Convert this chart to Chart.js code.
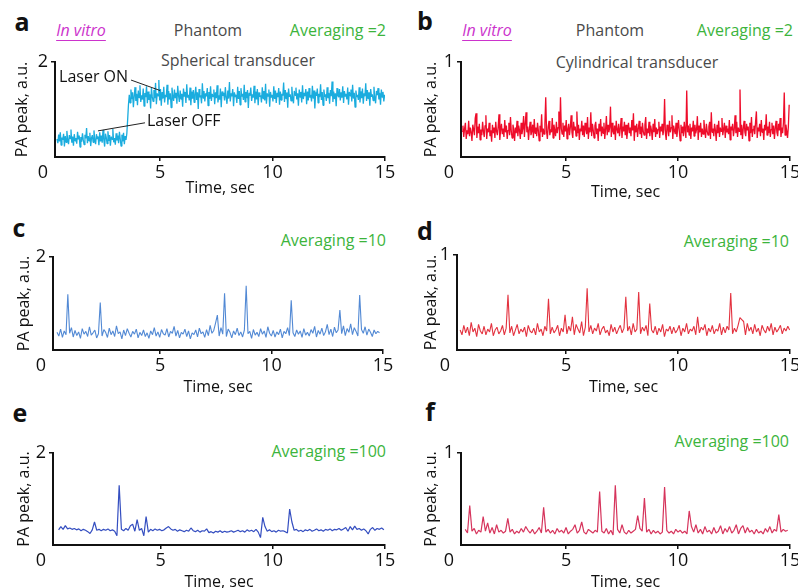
<!DOCTYPE html>
<html>
<head>
<meta charset="utf-8">
<script src="https://cdn.jsdelivr.net/npm/chart.js@4.4.0/dist/chart.umd.min.js"></script>
<style>
  html, body { margin: 0; padding: 0; background: #fff; }
  body { width: 798px; height: 588px; overflow: hidden; position: relative; font-family: "Open Sans", sans-serif; }
  .box { position: absolute; }
  .txt { position: absolute; white-space: nowrap; font-size: 16px; line-height: 1; transform: translate(-50%, -50%); color: #4a4a4a; }
  .right { transform: translate(-100%, -50%); }
  .letter { font-weight: bold; font-size: 25px; color: #111; }
  .vitro { font-style: italic; color: #cc33cc; text-decoration: underline; text-underline-offset: 4px; }
  .avg { color: #3cb43c; }
</style>
</head>
<body>

<div class="txt letter" style="left:22px;top:21px">a</div>
<div class="txt vitro" style="left:81px;top:30px">In vitro</div>
<div class="txt" style="left:208px;top:30px">Phantom</div>
<div class="txt avg right" style="left:386px;top:30px">Averaging =2</div>
<div class="txt" style="left:238px;top:60px">Spherical transducer</div>

<div class="txt letter" style="left:425px;top:20px">b</div>
<div class="txt vitro" style="left:487px;top:30px">In vitro</div>
<div class="txt" style="left:610px;top:30px">Phantom</div>
<div class="txt avg right" style="left:793px;top:30px">Averaging =2</div>
<div class="txt" style="left:637px;top:62px">Cylindrical transducer</div>

<div class="txt letter" style="left:19px;top:227px">c</div>
<div class="txt avg right" style="left:386px;top:240px">Averaging =10</div>

<div class="txt letter" style="left:425px;top:230px">d</div>
<div class="txt avg right" style="left:789px;top:241px">Averaging =10</div>

<div class="txt letter" style="left:20px;top:412px">e</div>
<div class="txt avg right" style="left:386px;top:451px">Averaging =100</div>

<div class="txt letter" style="left:430px;top:411px">f</div>
<div class="txt avg right" style="left:789px;top:441px">Averaging =100</div>

<script>
// sample grids (start time, sample spacing in sec)
const aStart = 0.42, aStep = 0.0365;
const bStart = 0.36, bStep = 0.0366;
const cStart = 0.38, cStep = 0.0808;
const dStart = 0.27, dStep = 0.0822;
const eStart = 0.45, eStep = 0.1;
const fStart = 0.5, fStep = 0.1;

const timeTicks = [5, 10, 15];

// a: spherical transducer, averaging 2 (laser off, then on at ~3.6 s)
const aValues = [
  0.38, 0.29, 0.47, 0.33, 0.52, 0.25, 0.41, 0.36, 0.49, 0.22, 0.44, 0.31, 0.55, 0.35, 0.27, 0.46, 0.39, 0.58, 0.30, 0.43,
  0.24, 0.48, 0.34, 0.40, 0.28, 0.53, 0.37, 0.45, 0.21, 0.42, 0.32, 0.50, 0.36, 0.26, 0.47, 0.39, 0.61, 0.29, 0.44, 0.34,
  0.51, 0.23, 0.40, 0.46, 0.31, 0.56, 0.35, 0.27, 0.48, 0.38, 0.43, 0.25, 0.52, 0.33, 0.45, 0.30, 0.57, 0.36, 0.22, 0.49,
  0.41, 0.28, 0.54, 0.34, 0.46, 0.24, 0.43, 0.37, 0.59, 0.31, 0.40, 0.26, 0.50, 0.35, 0.45, 0.29, 0.53, 0.38, 0.23, 0.47,
  0.33, 0.51, 0.27, 0.44, 0.36, 0.49,
  0.78, 1.10,
  1.31, 1.14, 1.42, 1.22, 1.36, 1.05, 1.28, 1.47, 1.18, 1.33, 1.09, 1.40, 1.25, 1.51, 1.16, 1.30, 1.21, 1.44, 1.07, 1.35,
  1.26, 1.49, 1.13, 1.38, 1.20, 1.32, 1.02, 1.45, 1.27, 1.17, 1.41, 1.24, 1.56, 1.11, 1.34, 1.29, 1.62, 1.19, 1.43, 1.08,
  1.37, 1.23, 1.48, 1.15, 1.31, 1.26, 1.52, 1.10, 1.39, 1.21, 1.34, 1.04, 1.46, 1.28, 1.18, 1.42, 1.24, 1.35, 1.12, 1.50,
  1.29, 1.16, 1.40, 1.22, 1.33, 1.06, 1.44, 1.27, 1.37, 1.14, 1.53, 1.25, 1.31, 1.19, 1.46, 1.09, 1.38, 1.23, 1.41, 1.15,
  1.32, 1.48, 1.20, 1.36, 1.01, 1.43, 1.26, 1.30, 1.13, 1.55, 1.24, 1.39, 1.17, 1.34, 1.28, 1.45, 1.08, 1.37, 1.22, 1.49,
  1.18, 1.33, 1.27, 1.42, 1.11, 1.36, 1.24, 1.51, 1.15, 1.30, 1.21, 1.44, 1.05, 1.38, 1.29, 1.35, 1.19, 1.47, 1.25, 1.12,
  1.40, 1.23, 1.58, 1.17, 1.34, 1.28, 1.43, 1.07, 1.36, 1.26, 1.31, 1.14, 1.48, 1.22, 1.39, 1.10, 1.45, 1.27, 1.33, 1.20,
  1.52, 1.16, 1.37, 1.24, 1.41, 1.03, 1.35, 1.29, 1.46, 1.18, 1.32, 1.25, 1.50, 1.13, 1.38, 1.21, 1.43, 1.09, 1.36, 1.27,
  1.30, 1.15, 1.47, 1.23, 1.39, 1.19, 1.54, 1.12, 1.34, 1.28, 1.42, 1.06, 1.37, 1.25, 1.31, 1.17, 1.49, 1.22, 1.40, 1.14,
  1.35, 1.26, 1.45, 1.10, 1.38, 1.20, 1.33, 1.29, 1.57, 1.16, 1.41, 1.23, 1.36, 1.04, 1.44, 1.27, 1.32, 1.18, 1.48, 1.24,
  1.13, 1.39, 1.30, 1.46, 1.21, 1.34, 1.08, 1.42, 1.26, 1.37, 1.15, 1.51, 1.22, 1.35, 1.28, 1.43, 1.11, 1.38, 1.19, 1.45,
  1.25, 1.31, 1.17, 1.50, 1.23, 1.40, 1.02, 1.36, 1.29, 1.44, 1.14, 1.33, 1.26, 1.53, 1.20, 1.37, 1.09, 1.42, 1.27, 1.32,
  1.18, 1.47, 1.24, 1.35, 1.12, 1.41, 1.28, 1.59, 1.16, 1.38, 1.22, 1.34, 1.07, 1.45, 1.30, 1.26, 1.43, 1.19, 1.36, 1.25,
  1.49, 1.14, 1.39, 1.27, 1.33, 1.21, 1.46, 1.10, 1.37, 1.29, 1.42, 1.17, 1.52, 1.23, 1.35, 1.05, 1.40, 1.26, 1.31, 1.20,
  1.47, 1.15, 1.38, 1.24, 1.44, 1.12, 1.34, 1.28, 1.55, 1.18, 1.41, 1.22, 1.36, 1.08, 1.43, 1.27, 1.32, 1.19, 1.48, 1.25,
  1.13, 1.39, 1.30, 1.45, 1.21, 1.35, 1.10, 1.42, 1.26, 1.37, 1.17, 1.31
];

// b: cylindrical transducer, averaging 2
const bValues = [
  0.27, 0.33, 0.21, 0.30, 0.36, 0.19, 0.28, 0.24, 0.38, 0.22, 0.31, 0.26, 0.17, 0.34, 0.29, 0.23, 0.41, 0.46, 0.20, 0.32,
  0.25, 0.35, 0.18, 0.29, 0.23, 0.37, 0.27, 0.21, 0.33, 0.44, 0.19, 0.30, 0.26, 0.36, 0.22, 0.28, 0.16, 0.34, 0.25, 0.31,
  0.20, 0.37, 0.27, 0.23, 0.32, 0.45, 0.18, 0.29, 0.35, 0.24, 0.30, 0.21, 0.39, 0.26, 0.33, 0.19, 0.28, 0.36, 0.23, 0.42,
  0.27, 0.20, 0.34, 0.29, 0.17, 0.31, 0.25, 0.38, 0.22, 0.33, 0.28, 0.19, 0.36, 0.24, 0.30, 0.43, 0.21, 0.35, 0.47, 0.26,
  0.32, 0.18, 0.29, 0.37, 0.23, 0.27, 0.34, 0.20, 0.40, 0.25, 0.31, 0.22, 0.36, 0.28, 0.17, 0.33, 0.26, 0.45, 0.21, 0.30,
  0.24, 0.35, 0.63, 0.27, 0.19, 0.32, 0.38, 0.23, 0.29, 0.26, 0.41, 0.20, 0.34, 0.28, 0.22, 0.37, 0.25, 0.31, 0.48, 0.18,
  0.63, 0.30, 0.24, 0.36, 0.21, 0.33, 0.27, 0.39, 0.19, 0.29, 0.35, 0.23, 0.31, 0.44, 0.26, 0.20, 0.37, 0.28, 0.32, 0.22,
  0.48, 0.25, 0.34, 0.18, 0.30, 0.27, 0.38, 0.23, 0.33, 0.21, 0.36, 0.29, 0.24, 0.42, 0.19, 0.31, 0.26, 0.47, 0.22, 0.35,
  0.28, 0.20, 0.33, 0.37, 0.24, 0.30, 0.17, 0.35, 0.27, 0.40, 0.22, 0.32, 0.25, 0.36, 0.19, 0.29, 0.43, 0.23, 0.34, 0.26,
  0.31, 0.53, 0.21, 0.36, 0.27, 0.24, 0.33, 0.18, 0.38, 0.29, 0.25, 0.35, 0.22, 0.30, 0.41, 0.20, 0.32, 0.27, 0.37, 0.23,
  0.34, 0.19, 0.29, 0.36, 0.25, 0.31, 0.22, 0.39, 0.28, 0.46, 0.17, 0.33, 0.26, 0.35, 0.21, 0.30, 0.38, 0.24, 0.32, 0.20,
  0.36, 0.27, 0.23, 0.34, 0.42, 0.19, 0.30, 0.25, 0.37, 0.22, 0.33, 0.28, 0.18, 0.35, 0.26, 0.40, 0.21, 0.31, 0.24, 0.29,
  0.37, 0.20, 0.32, 0.27, 0.35, 0.23, 0.29, 0.61, 0.25, 0.18, 0.34, 0.30, 0.22, 0.38, 0.26, 0.31, 0.44, 0.19, 0.33, 0.28,
  0.24, 0.36, 0.21, 0.30, 0.39, 0.27, 0.17, 0.34, 0.25, 0.32, 0.22, 0.37, 0.28, 0.20, 0.70, 0.26, 0.33, 0.23, 0.35, 0.19,
  0.31, 0.27, 0.38, 0.22, 0.34, 0.25, 0.29, 0.43, 0.18, 0.33, 0.26, 0.36, 0.21, 0.30, 0.24, 0.39, 0.28, 0.20, 0.35, 0.27,
  0.23, 0.32, 0.37, 0.19, 0.47, 0.26, 0.30, 0.22, 0.35, 0.28, 0.17, 0.34, 0.25, 0.38, 0.21, 0.31, 0.27, 0.41, 0.23, 0.29,
  0.36, 0.20, 0.33, 0.26, 0.30, 0.24, 0.39, 0.18, 0.32, 0.28, 0.35, 0.22, 0.29, 0.44, 0.25, 0.37, 0.21, 0.31, 0.27, 0.71,
  0.23, 0.34, 0.19, 0.30, 0.38, 0.26, 0.22, 0.35, 0.28, 0.32, 0.17, 0.36, 0.25, 0.42, 0.21, 0.29, 0.33, 0.24, 0.37, 0.48,
  0.20, 0.31, 0.27, 0.35, 0.22, 0.39, 0.26, 0.30, 0.18, 0.34, 0.28, 0.45, 0.23, 0.32, 0.25, 0.37, 0.21, 0.29, 0.36, 0.24,
  0.33, 0.19, 0.30, 0.38, 0.26, 0.22, 0.35, 0.28, 0.41, 0.21, 0.31, 0.25, 0.36, 0.68, 0.23, 0.34, 0.27, 0.20, 0.32, 0.55
];

// c: spherical, averaging 10
const cValues = [
  0.38, 0.30, 0.45, 0.27, 0.41, 0.33, 1.20, 0.36, 0.48, 0.28, 0.42, 0.31, 0.39, 0.25, 0.46, 0.34, 0.40, 0.29, 0.50, 0.32,
  0.37, 0.43, 0.26, 0.35, 1.02, 0.30, 0.44, 0.38, 0.27, 0.47, 0.33, 0.41, 0.29, 0.52, 0.35, 0.39, 0.24, 0.43, 0.31, 0.46,
  0.36, 0.28, 0.40, 0.34, 0.45, 0.26, 0.38, 0.31, 0.43, 0.29, 0.37, 0.25, 0.41, 0.33, 0.48, 0.30, 0.39, 0.27, 0.44, 0.35,
  0.32, 0.46, 0.28, 0.40, 0.36, 0.51, 0.30, 0.42, 0.26, 0.38, 0.34, 0.45, 0.29, 0.41, 0.24, 0.37, 0.33, 0.43, 0.28, 0.47,
  0.35, 0.39, 0.27, 0.44, 0.31, 0.53, 0.36, 0.42, 0.58, 0.75, 0.30, 0.48, 0.34, 1.22, 0.29, 0.45, 0.38, 0.26, 0.41, 0.33,
  0.47, 0.31, 0.39, 0.28, 0.43, 1.38, 0.35, 0.40, 0.25, 0.44, 0.32, 0.38, 0.29, 0.46, 0.34, 0.41, 0.27, 0.50, 0.36, 0.30,
  0.42, 0.28, 0.39, 0.33, 0.45, 0.26, 0.40, 0.35, 0.48, 0.31, 1.07, 0.37, 0.29, 0.43, 0.34, 0.41, 0.27, 0.46, 0.32, 0.38,
  0.30, 0.44, 0.36, 0.51, 0.28, 0.42, 0.34, 0.47, 0.31, 0.39, 0.55, 0.33, 0.45, 0.29, 0.49, 0.37, 0.43, 0.86, 0.35, 0.52,
  0.31, 0.46, 0.38, 0.56, 0.33, 0.48, 0.40, 0.30, 1.18, 0.44, 0.36, 0.50, 0.32, 0.45, 0.38, 0.29, 0.43, 0.35, 0.40, 0.37
];

// d: cylindrical, averaging 10
const dValues = [
  0.21, 0.16, 0.26, 0.18, 0.24, 0.15, 0.29, 0.19, 0.23, 0.14, 0.27, 0.20, 0.17, 0.25, 0.16, 0.22, 0.19, 0.28, 0.15, 0.21,
  0.24, 0.17, 0.20, 0.26, 0.16, 0.23, 0.58, 0.18, 0.25, 0.15, 0.21, 0.27, 0.17, 0.22, 0.19, 0.24, 0.14, 0.26, 0.20, 0.18,
  0.23, 0.16, 0.28, 0.19, 0.22, 0.15, 0.25, 0.20, 0.54, 0.17, 0.24, 0.18, 0.21, 0.26, 0.15, 0.23, 0.19, 0.37, 0.17, 0.25,
  0.20, 0.35, 0.16, 0.27, 0.22, 0.18, 0.30, 0.15, 0.24, 0.65, 0.19, 0.26, 0.17, 0.23, 0.20, 0.28, 0.16, 0.22, 0.25, 0.18,
  0.21, 0.15, 0.27, 0.19, 0.24, 0.17, 0.22, 0.26, 0.18, 0.23, 0.56, 0.20, 0.25, 0.16, 0.28, 0.19, 0.22, 0.61, 0.17, 0.24,
  0.20, 0.26, 0.15, 0.49, 0.21, 0.18, 0.25, 0.16, 0.23, 0.19, 0.27, 0.14, 0.22, 0.20, 0.25, 0.17, 0.24, 0.18, 0.21, 0.26,
  0.15, 0.23, 0.19, 0.28, 0.17, 0.22, 0.20, 0.25, 0.16, 0.35, 0.18, 0.24, 0.21, 0.27, 0.15, 0.23, 0.19, 0.26, 0.17, 0.22,
  0.20, 0.28, 0.16, 0.24, 0.18, 0.25, 0.21, 0.60, 0.17, 0.23, 0.19, 0.26, 0.34, 0.32, 0.30, 0.16, 0.28, 0.20, 0.24, 0.17,
  0.27, 0.19, 0.23, 0.15, 0.26, 0.21, 0.18, 0.25, 0.20, 0.28, 0.16, 0.24, 0.19, 0.22, 0.26, 0.17, 0.23, 0.20, 0.25, 0.21
];

// e: spherical, averaging 100
const eValues = [
  0.33, 0.40, 0.34, 0.42, 0.35, 0.37, 0.34, 0.36, 0.33, 0.35, 0.31, 0.34, 0.32, 0.29, 0.25, 0.33, 0.50, 0.32, 0.34, 0.31,
  0.34, 0.32, 0.35, 0.31, 0.33, 0.30, 0.20, 1.30, 0.34, 0.31, 0.36, 0.32, 0.42, 0.45, 0.30, 0.55, 0.32, 0.36, 0.20, 0.62,
  0.28, 0.34, 0.31, 0.35, 0.32, 0.34, 0.31, 0.33, 0.37, 0.40, 0.35, 0.32, 0.34, 0.30, 0.33, 0.31, 0.29, 0.32, 0.30, 0.37,
  0.31, 0.29, 0.32, 0.28, 0.31, 0.30, 0.35, 0.27, 0.29, 0.26, 0.30, 0.28, 0.31, 0.27, 0.30, 0.28, 0.29, 0.31, 0.28, 0.30,
  0.32, 0.29, 0.31, 0.28, 0.33, 0.30, 0.32, 0.29, 0.34, 0.28, 0.16, 0.60, 0.40, 0.30, 0.33, 0.29, 0.31, 0.28, 0.32, 0.30,
  0.31, 0.29, 0.26, 0.78, 0.50, 0.32, 0.34, 0.30, 0.32, 0.29, 0.33, 0.31, 0.34, 0.30, 0.32, 0.35, 0.31, 0.33, 0.30, 0.34,
  0.32, 0.35, 0.31, 0.34, 0.33, 0.36, 0.32, 0.35, 0.38, 0.30, 0.40, 0.33, 0.41, 0.34, 0.36, 0.32, 0.35, 0.31, 0.24, 0.34,
  0.38, 0.32, 0.36, 0.34, 0.37, 0.33
];

// f: cylindrical, averaging 100
const fValues = [
  0.17, 0.13, 0.43, 0.15, 0.18, 0.12, 0.16, 0.14, 0.31, 0.15, 0.24, 0.13, 0.19, 0.12, 0.22, 0.14, 0.16, 0.13, 0.15, 0.29,
  0.14, 0.17, 0.12, 0.15, 0.13, 0.18, 0.14, 0.20, 0.16, 0.13, 0.17, 0.12, 0.15, 0.19, 0.13, 0.41, 0.14, 0.17, 0.13, 0.16,
  0.12, 0.18, 0.14, 0.16, 0.13, 0.19, 0.12, 0.15, 0.17, 0.22, 0.13, 0.16, 0.25, 0.14, 0.12, 0.17, 0.15, 0.13, 0.16, 0.14,
  0.58, 0.15, 0.13, 0.18, 0.12, 0.16, 0.11, 0.65, 0.17, 0.13, 0.22, 0.14, 0.12, 0.16, 0.13, 0.15, 0.17, 0.32, 0.18, 0.15,
  0.51, 0.14, 0.17, 0.12, 0.16, 0.13, 0.15, 0.12, 0.14, 0.63, 0.16, 0.13, 0.15, 0.12, 0.17, 0.14, 0.16, 0.13, 0.15, 0.12,
  0.37, 0.20, 0.14, 0.22, 0.13, 0.17, 0.12, 0.20, 0.14, 0.16, 0.12, 0.19, 0.13, 0.15, 0.21, 0.12, 0.18, 0.14, 0.20, 0.13,
  0.16, 0.22, 0.12, 0.18, 0.21, 0.13, 0.19, 0.14, 0.16, 0.12, 0.17, 0.13, 0.15, 0.12, 0.18, 0.14, 0.20, 0.13, 0.17, 0.15,
  0.33, 0.14, 0.17, 0.15, 0.16
];

// laser on/off call-outs on panel a, in data units
const laserNotes = [
  { text: 'Laser ON', at: [3.58, 1.67], align: 'right', from: [3.71, 1.62], to: [5.0, 1.40] },
  { text: 'Laser OFF', at: [4.42, 0.74], align: 'left', from: [4.33, 0.72], to: [2.24, 0.55] }
];

Chart.defaults.font.family = '"Open Sans", sans-serif';
Chart.defaults.color = '#111';

const cornerZero = {
  id: 'cornerZero',
  afterDraw(chart) {
    const { ctx, chartArea } = chart;
    ctx.save();
    ctx.font = '18px "Open Sans"';
    ctx.fillStyle = '#111';
    ctx.textAlign = 'center';
    ctx.textBaseline = 'middle';
    ctx.fillText('0', chartArea.left - 12, chartArea.bottom + 16);
    ctx.restore();
  }
};

const calloutPlugin = {
  id: 'callouts',
  afterDatasetsDraw(chart, args, opts) {
    if (!opts.notes) return;
    const { ctx, scales: { x, y } } = chart;
    ctx.save();
    ctx.strokeStyle = '#222';
    ctx.lineWidth = 1;
    ctx.fillStyle = '#111';
    ctx.font = '16px "Open Sans"';
    ctx.textBaseline = 'middle';
    opts.notes.forEach(n => {
      ctx.beginPath();
      ctx.moveTo(x.getPixelForValue(n.from[0]), y.getPixelForValue(n.from[1]));
      ctx.lineTo(x.getPixelForValue(n.to[0]), y.getPixelForValue(n.to[1]));
      ctx.stroke();
      ctx.textAlign = n.align;
      ctx.fillText(n.text, x.getPixelForValue(n.at[0]), y.getPixelForValue(n.at[1]));
    });
    ctx.restore();
  }
};

function toPoints(values, start, step) {
  return values.map((v, i) => ({ x: start + i * step, y: v }));
}

function makePanel(p) {
  const box = document.createElement('div');
  box.className = 'box';
  box.style.left = p.left + 'px';
  box.style.top = p.top + 'px';
  box.style.width = p.width + 'px';
  box.style.height = p.height + 'px';
  const canvas = document.createElement('canvas');
  box.appendChild(canvas);
  document.body.appendChild(box);

  new Chart(canvas, {
    type: 'line',
    data: {
      datasets: [{
        data: toPoints(p.values, p.start, p.step),
        borderColor: p.color,
        borderWidth: p.lineWidth,
        borderJoinStyle: 'bevel',
        pointRadius: 0,
        tension: 0,
        fill: false
      }]
    },
    options: {
      responsive: true,
      maintainAspectRatio: false,
      animation: false,
      layout: { padding: { top: p.padTop, right: p.padRight, left: 0, bottom: 0 } },
      plugins: {
        legend: { display: false },
        tooltip: { enabled: false },
        callouts: { notes: p.notes }
      },
      scales: {
        x: {
          type: 'linear',
          min: p.xMin,
          max: 15,
          afterBuildTicks: s => { s.ticks = timeTicks.map(v => ({ value: v })); },
          afterFit: s => { s.height = p.xHeight; },
          ticks: { font: { size: 18 }, padding: 1, color: '#111' },
          grid: { drawOnChartArea: false, drawTicks: true, tickLength: 4, lineWidth: 1.5, color: '#111' },
          border: { display: true, color: '#111', width: 2 },
          title: { display: true, text: 'Time, sec', font: { size: 16 }, color: '#111', padding: { top: 0, bottom: 4 } }
        },
        y: {
          min: 0,
          max: p.yMax,
          afterBuildTicks: s => { s.ticks = [{ value: p.yMax }]; },
          afterFit: s => { s.width = p.yWidth; },
          ticks: { font: { size: 18 }, padding: 3, color: '#111' },
          grid: { drawOnChartArea: false, drawTicks: true, tickLength: 4, lineWidth: 1.5, color: '#111' },
          border: { display: true, color: '#111', width: 2 },
          title: { display: true, text: 'PA peak, a.u.', font: { size: 16 }, color: '#111', padding: { top: p.yTitlePad, bottom: 0 } }
        }
      }
    },
    plugins: [cornerZero, calloutPlugin]
  });
}

const panels = [
  { left: 0,   top: 0,   width: 400, height: 202, padTop: 62, padRight: 15, yWidth: 55, xHeight: 45, yTitlePad: 13,
    xMin: 0.33, yMax: 2, values: aValues, start: aStart, step: aStep, color: 'rgb(26,172,222)', lineWidth: 1.3, notes: laserNotes },
  { left: 400, top: 0,   width: 410, height: 206, padTop: 62, padRight: 20, yWidth: 61, xHeight: 49, yTitlePad: 22,
    xMin: 0.31, yMax: 1, values: bValues, start: bStart, step: bStep, color: 'rgb(238,12,42)', lineWidth: 1.3 },
  { left: 0,   top: 200, width: 400, height: 201, padTop: 57, padRight: 17, yWidth: 53, xHeight: 51, yTitlePad: 15,
    xMin: 0.2, yMax: 2, values: cValues, start: cStart, step: cStep, color: 'rgba(52,116,205,0.85)', lineWidth: 1.1 },
  { left: 400, top: 200, width: 410, height: 201, padTop: 55, padRight: 20, yWidth: 57, xHeight: 51, yTitlePad: 22,
    xMin: 0.13, yMax: 1, values: dValues, start: dStart, step: dStep, color: 'rgba(224,28,42,0.9)', lineWidth: 1.1 },
  { left: 0,   top: 400, width: 400, height: 196, padTop: 53, padRight: 15, yWidth: 53, xHeight: 51, yTitlePad: 15,
    xMin: 0.2, yMax: 2, values: eValues, start: eStart, step: eStep, color: 'rgb(52,78,192)', lineWidth: 1.2 },
  { left: 400, top: 400, width: 410, height: 196, padTop: 53, padRight: 20, yWidth: 61, xHeight: 51, yTitlePad: 22,
    xMin: 0.31, yMax: 1, values: fValues, start: fStart, step: fStep, color: 'rgb(214,52,92)', lineWidth: 1.2 }
];

panels.forEach(makePanel);
</script>
</body>
</html>
